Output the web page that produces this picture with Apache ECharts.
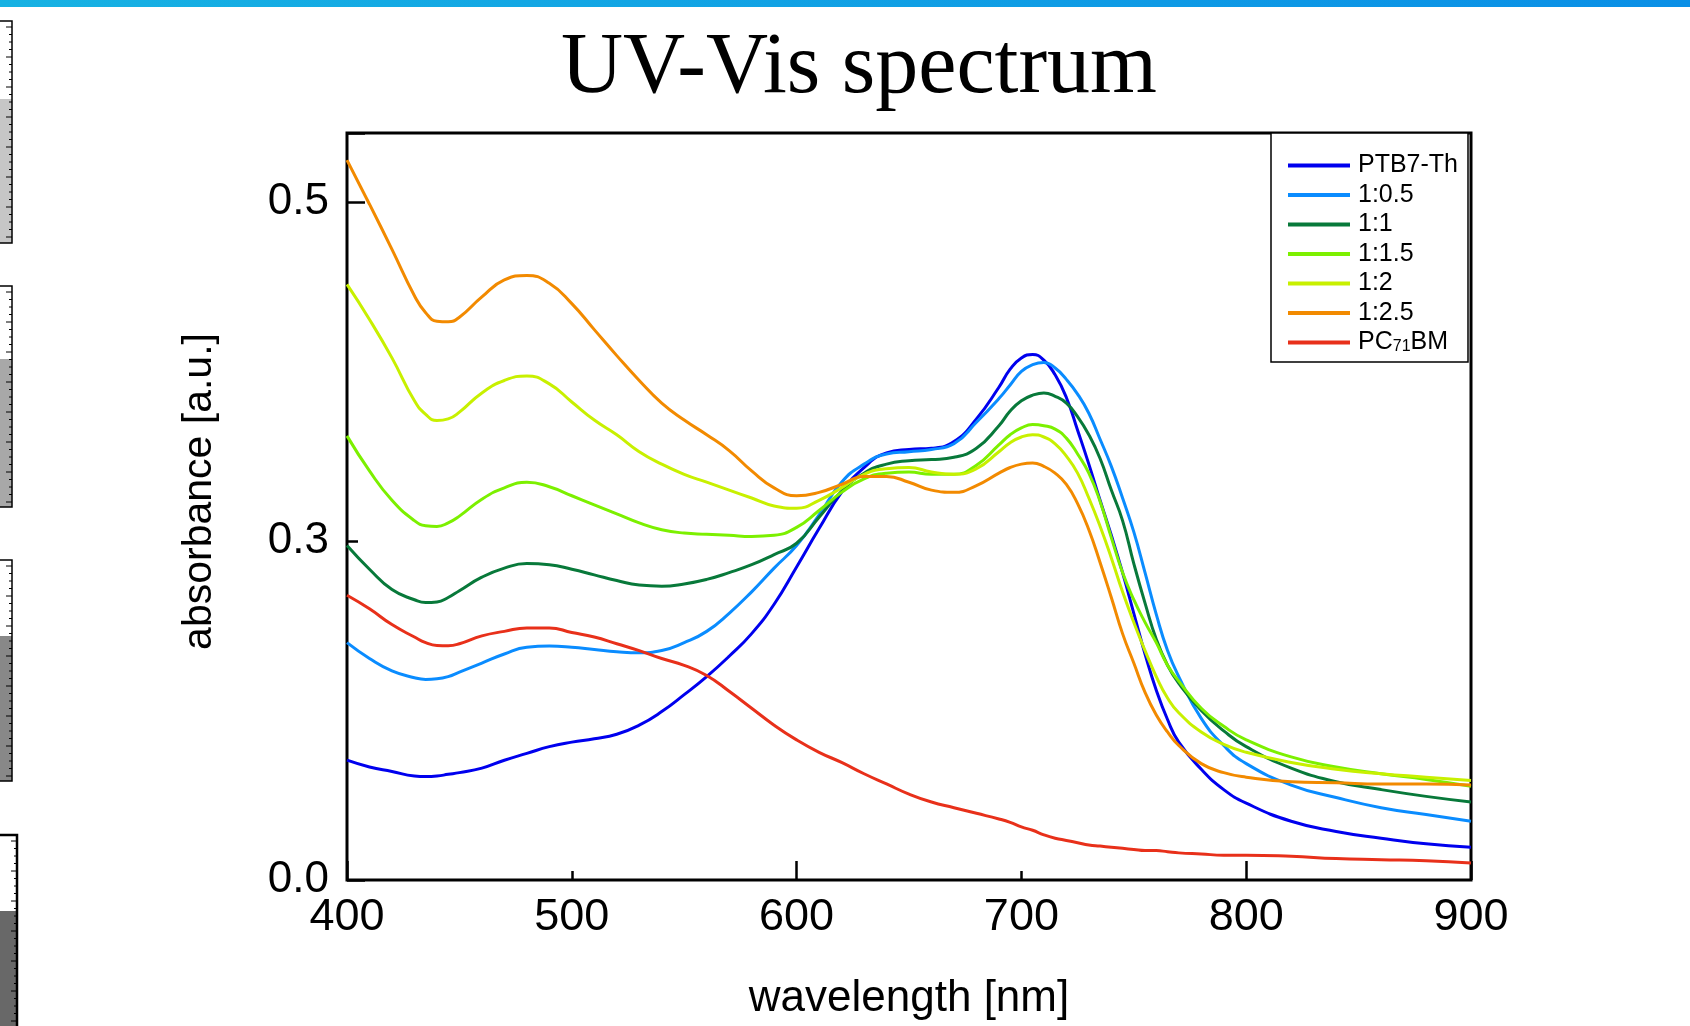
<!DOCTYPE html>
<html>
<head>
<meta charset="utf-8">
<script src="https://cdn.jsdelivr.net/npm/echarts@6/dist/echarts.min.js"></script>
<style>
  html, body { margin: 0; padding: 0; background: #ffffff; }
  #chart { width: 1690px; height: 1026px; }
</style>
</head>
<body>
<div id="chart"></div>
<script>
// Wavelength grid (nm)
const wavelengths = [
  400, 410, 420, 430, 435, 440, 445, 450, 460, 470, 480, 490,
  500, 510, 520, 530, 540, 550, 560, 570, 580, 590,
  600, 610, 620, 630, 640, 650, 660, 670, 680, 690,
  695, 700, 705, 710, 715, 720, 725, 730, 735, 740,
  745, 750, 755, 760, 765, 770, 780, 790, 800, 820,
  840, 860, 880, 900
];

// Absorbance of each film, in the units of the absorbance axis
const ptb7th = [
  .106, .100, .096, .092, .0915, .092, .0935, .095, .099, .106, .112, .118,
  .122, .125, .129, .137, .149, .164, .180, .198, .218, .244,
  .277, .311, .343, .365, .378, .381, .382, .388, .408, .436,
  .452, .462, .465, .460, .447, .427, .398, .368, .336, .305,
  .272, .236, .200, .168, .142, .122, .098, .080, .068, .052,
  .043, .037, .032, .029
];
const ratio1to05 = [
  .210, .196, .185, .179, .1775, .178, .180, .184, .192, .200, .206, .207,
  .206, .204, .202, .201, .203, .210, .220, .236, .255, .276,
  .296, .323, .352, .368, .377, .379, .381, .386, .405, .426,
  .438, .450, .456, .458, .453, .443, .430, .413, .390, .366,
  .338, .308, .272, .235, .203, .180, .143, .119, .103, .084,
  .073, .064, .058, .052
];
const ratio1to1 = [
  .296, .275, .257, .248, .2455, .246, .250, .256, .268, .276, .280, .279,
  .275, .270, .265, .261, .260, .262, .266, .272, .279, .288,
  .298, .321, .344, .360, .368, .371, .372, .374, .382, .402,
  .415, .424, .429, .431, .428, .422, .410, .394, .373, .345,
  .318, .280, .245, .213, .190, .174, .150, .132, .118, .099,
  .087, .080, .074, .069
];
const ratio1to15 = [
  .393, .362, .336, .318, .3135, .3128, .316, .322, .337, .347, .352, .348,
  .340, .332, .324, .316, .310, .307, .306, .305, .304, .305,
  .312, .327, .343, .355, .360, .361, .359, .359, .367, .385,
  .394, .400, .403, .402, .399, .391, .377, .360, .335, .303,
  .272, .248, .228, .210, .190, .176, .152, .136, .124, .109,
  .100, .094, .089, .083
];
const ratio1to2 = [
  .527, .496, .462, .424, .412, .4065, .408, .414, .431, .442, .446, .439,
  .423, .407, .394, .379, .368, .359, .352, .345, .338, .331,
  .329, .336, .347, .359, .364, .365, .361, .359, .364, .379,
  .387, .392, .394, .392, .386, .375, .360, .338, .313, .285,
  .255, .228, .203, .180, .161, .148, .131, .120, .113, .104,
  .098, .094, .091, .088
];
const ratio1to25 = [
  .637, .598, .558, .517, .502, .4945, .494, .498, .516, .531, .535, .528,
  .510, .487, .464, .442, .422, .407, .394, .380, .362, .347,
  .340, .343, .350, .357, .357, .352, .345, .343, .349, .360,
  .365, .368, .369, .366, .360, .350, .333, .310, .281, .250,
  .218, .192, .166, .146, .131, .119, .103, .095, .091, .087,
  .086, .085, .085, .084
];
const pc71bm = [
  .252, .240, .226, .215, .210, .2075, .2073, .209, .216, .220, .223, .223,
  .219, .215, .209, .203, .196, .190, .181, .167, .152, .137,
  .124, .113, .104, .094, .085, .076, .069, .064, .059, .054,
  .051, .047, .044, .040, .037, .035, .033, .031, .030, .029,
  .028, .027, .026, .026, .025, .024, .023, .022, .022, .021,
  .019, .018, .017, .015
];

const seriesNames = ['PTB7-Th', '1:0.5', '1:1', '1:1.5', '1:2', '1:2.5', 'PC71BM'];
const seriesValues = [ptb7th, ratio1to05, ratio1to1, ratio1to15, ratio1to2, ratio1to25, pc71bm];
const seriesColors = ['#0000ee', '#0a8cff', '#08793a', '#7cf000', '#c8f000', '#f28a00', '#e8301a'];

// Labels printed at the absorbance ticks (0, 0.3, 0.6 on the axis)
const yTickLabels = ['0.0', '0.3', '0.5'];
const yTickStep = 0.3;

const FONT = 'Liberation Sans, Arial, sans-serif';

const chart = echarts.init(document.getElementById('chart'), null, { renderer: 'canvas' });

// ---- slide decorations: top colour band and the strip of level gauges on the left edge
const graphic = [];
graphic.push({
  type: 'rect', silent: true, z: 0,
  shape: { x: 0, y: 0, width: 1690, height: 7 },
  style: {
    fill: new echarts.graphic.LinearGradient(0, 0, 1, 0, [
      { offset: 0, color: '#17b2e3' },
      { offset: 1, color: '#0a8fe6' }
    ])
  }
});
const gauges = [
  { y0: 21, y1: 243, split: 99, fill: '#c6c6c6', w: 12 },
  { y0: 286, y1: 507, split: 359, fill: '#a8a8a8', w: 12 },
  { y0: 560, y1: 781, split: 636, fill: '#888888', w: 12 },
  { y0: 835, y1: 1040, split: 911, fill: '#686868', w: 17 }
];
gauges.forEach(function (g) {
  graphic.push({ type: 'rect', silent: true, shape: { x: -2, y: g.y0, width: g.w + 2, height: g.split - g.y0 }, style: { fill: '#ffffff' } });
  graphic.push({ type: 'rect', silent: true, shape: { x: -2, y: g.split, width: g.w + 2, height: g.y1 - g.split }, style: { fill: g.fill } });
  graphic.push({ type: 'rect', silent: true, shape: { x: -2, y: g.y0, width: g.w + 2, height: g.y1 - g.y0 }, style: { fill: null, stroke: '#000', lineWidth: g.w > 14 ? 2.5 : 1.5 } });
  let k = 0;
  for (let y = g.y0 + 6; y < g.y1 - 2; y += 7.5, k++) {
    const len = (k % 4 === 0) ? 6 : 3;
    graphic.push({ type: 'line', silent: true, shape: { x1: g.w - len, y1: y, x2: g.w, y2: y }, style: { stroke: '#000', lineWidth: 1 } });
  }
});
// legend frame
graphic.push({
  type: 'rect', silent: true, z: 1,
  shape: { x: 1271, y: 133, width: 197, height: 229 },
  style: { fill: '#ffffff', stroke: '#000', lineWidth: 1.5 }
});

const series = seriesNames.map(function (name, s) {
  return {
    name: name,
    type: 'line',
    xAxisIndex: 0,
    yAxisIndex: 0,
    symbol: 'none',
    showSymbol: false,
    smooth: 0.5,
    z: 3,
    lineStyle: { color: seriesColors[s], width: 3 },
    itemStyle: { color: seriesColors[s] },
    data: wavelengths.map(function (w, i) { return [w, seriesValues[s][i]]; })
  };
});

const option = {
  backgroundColor: '#ffffff',
  animation: false,
  title: {
    text: 'UV-Vis spectrum',
    left: 859,
    top: 26,
    textAlign: 'center',
    padding: 0,
    textStyle: { fontFamily: 'Liberation Serif, Times New Roman, serif', fontSize: 86, fontWeight: 'normal', color: '#000' }
  },
  graphic: graphic,
  legend: {
    orient: 'vertical',
    left: 1288,
    top: 153,
    padding: 0,
    itemGap: 4.5,
    itemWidth: 62,
    itemHeight: 4,
    icon: 'rect',
    z: 6,
    data: seriesNames,
    formatter: function (name) {
      return name === 'PC71BM' ? '{n|PC}{s|71}{n|BM}' : '{n|' + name + '}';
    },
    textStyle: {
      color: '#000',
      fontFamily: FONT,
      fontSize: 25,
      padding: [0, 0, 0, 3],
      rich: {
        n: { fontFamily: FONT, fontSize: 25, lineHeight: 25, color: '#000' },
        s: { fontFamily: FONT, fontSize: 16, lineHeight: 1, verticalAlign: 'bottom', color: '#000' }
      }
    }
  },
  grid: {
    left: 347, right: 219, top: 133, bottom: 144,
    show: true, borderColor: '#000', borderWidth: 3, backgroundColor: 'transparent'
  },
  xAxis: [
    {
      type: 'value', min: 400, max: 900, interval: 100, position: 'bottom',
      name: 'wavelength [nm]', nameLocation: 'middle', nameGap: 97,
      nameTextStyle: { fontFamily: FONT, fontSize: 44, color: '#000' },
      axisLine: { show: false },
      axisTick: { show: true, inside: true, length: 9, lineStyle: { color: '#000', width: 2.5 } },
      axisLabel: { fontFamily: FONT, fontSize: 45, color: '#000', margin: 15 },
      splitLine: { show: false }
    },
    {
      // long ticks every 200 nm
      type: 'value', min: 400, max: 900, interval: 200, position: 'bottom',
      axisLine: { show: false },
      axisTick: { show: true, inside: true, length: 19, lineStyle: { color: '#000', width: 2.5 } },
      axisLabel: { show: false },
      splitLine: { show: false }
    }
  ],
  yAxis: [
    {
      type: 'value', min: 0, max: 0.661, interval: yTickStep, position: 'left',
      name: 'absorbance [a.u.]', nameLocation: 'middle', nameGap: 127,
      nameTextStyle: { fontFamily: FONT, fontSize: 41, color: '#000', padding: [0, 0, 0, 30] },
      axisLine: { show: false },
      axisTick: { show: true, inside: true, length: 11, lineStyle: { color: '#000', width: 2.5 } },
      axisLabel: {
        fontFamily: FONT, fontSize: 44, color: '#000', margin: 18, showMaxLabel: false,
        formatter: function (v) {
          const i = Math.round(v / yTickStep);
          return (Math.abs(v - i * yTickStep) < 1e-6 && i < yTickLabels.length) ? yTickLabels[i] : '';
        }
      },
      splitLine: { show: false }
    },
    {
      // long tick at the top labelled mark
      type: 'value', min: 0, max: 0.661, interval: 0.6, position: 'left',
      axisLine: { show: false },
      axisTick: { show: true, inside: true, length: 18, lineStyle: { color: '#000', width: 2.5 } },
      axisLabel: { show: false },
      splitLine: { show: false }
    }
  ],
  series: series
};

chart.setOption(option);
</script>
</body>
</html>
